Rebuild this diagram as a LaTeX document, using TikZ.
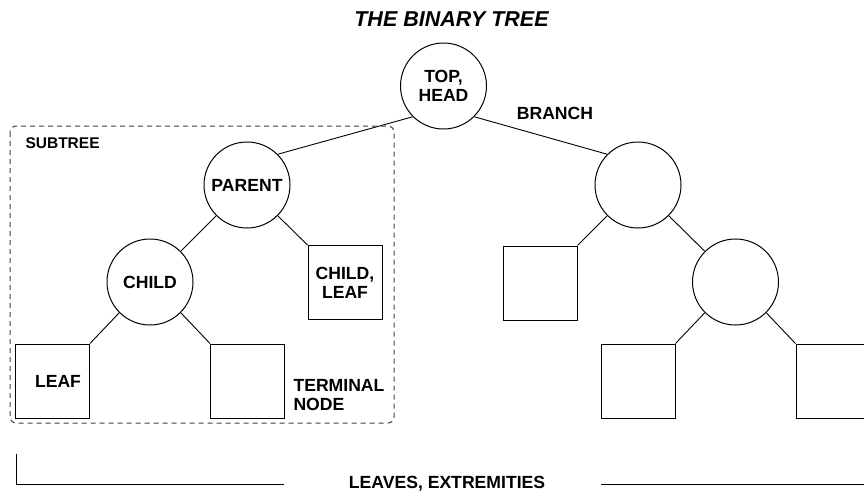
\documentclass[tikz,border=0pt]{standalone}
\usepackage{fontspec}
\setmainfont{Liberation Sans}
\usetikzlibrary{positioning}

\tikzset{
  lbl/.style={font=\fontsize{17.6}{19}\selectfont\bfseries, align=center},
  inner/.style={lbl, circle, draw, line width=1pt, minimum size=86pt, inner sep=0pt},
  leafbox/.style={lbl, rectangle, draw, line width=1pt, minimum size=74pt, inner sep=0pt},
  branch/.style={line width=0.9pt},
  subframe/.style={draw=black!75, line width=1pt, dash pattern=on 5pt off 4pt, rounded corners=6pt}
}

\begin{document}
\begin{tikzpicture}[x=1pt, y=-1pt]
    \useasboundingbox (0,0) rectangle (864,496);
    \clip (0,0) rectangle (864,496);

    % title
    \node[font=\fontsize{21.5}{24}\selectfont\bfseries\itshape] (title) at (451.5,19.5) {THE BINARY TREE};

    % inner nodes
    \node[inner] (top) at (443.5,86) {TOP,\\HEAD};
    \node[inner] (parent) at (247,185) {PARENT};
    \node[inner] (rparent) at (638,185) {};
    \node[inner] (child) at (150,282) {CHILD};
    \node[inner] (rchild) at (735.5,282) {};

    % leaves
    \node[leafbox] (cleaf) at (345,282.5) {CHILD,\\LEAF};
    \node[leafbox] (rleaf) at (540,283) {};
    \node[leafbox, label={[lbl, xshift=5.5pt]center:LEAF}] (leaf) at (52.5,381) {};
    \node[leafbox] (term) at (247.5,381) {};
    \node[leafbox] (rleafa) at (638,381) {};
    \node[leafbox] (rleafb) at (833,381) {};

    % branches
    \draw[branch] (top.south west) -- (parent.north east);
    \draw[branch] (top.south east) -- (rparent.north west);
    \draw[branch] (parent.south west) -- (child.north east);
    \draw[branch] (parent.south east) -- (cleaf.north west);
    \draw[branch] (child.south west) -- (leaf.north east);
    \draw[branch] (child.south east) -- (term.north west);
    \draw[branch] (rparent.south west) -- (rleaf.north east);
    \draw[branch] (rparent.south east) -- (rchild.north west);
    \draw[branch] (rchild.south west) -- (rleafa.north east);
    \draw[branch] (rchild.south east) -- (rleafb.north west);

    % subtree frame
    \draw[subframe] (10,126) rectangle (394,423);
    \node[font=\fontsize{15.5}{17}\selectfont\bfseries, anchor=west] (subtree) at (22,143.5) {SUBTREE};

    % other labels
    \node[lbl] (branchlbl) at (555,113) {BRANCH};
    \node[lbl, align=left, anchor=west] (termlbl) at (290,395.5) {TERMINAL\\NODE};
    \node[lbl] (leaves) at (447,484) {LEAVES, EXTREMITIES};

    % bracket under the leaves
    \coordinate (bl) at (16,454);
    \coordinate (br) at (878,454);
    \draw[branch] (bl) -- (bl |- leaves) -- (284,484);
    \draw[branch] (601,484) -- (br |- leaves) -- (br);
\end{tikzpicture}
\end{document}
